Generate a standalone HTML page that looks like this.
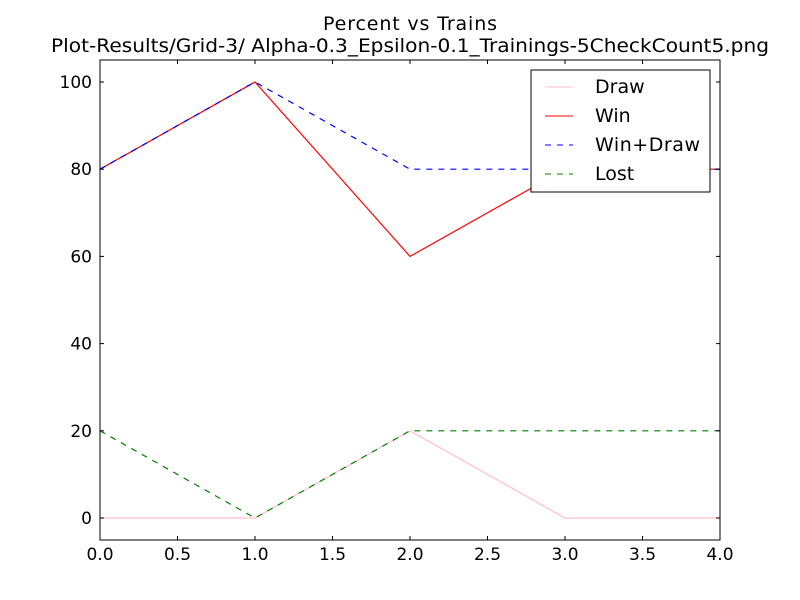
<!DOCTYPE html>
<html><head><meta charset="utf-8"><style>body{margin:0;background:#fff}svg{display:block;font-family:"DejaVu Sans","Liberation Sans",sans-serif}</style></head>
<body>
<svg id="chart" width="800" height="600">
<rect width="800" height="600" fill="#fff"/>
<text x="410" y="30" font-size="19" text-anchor="middle" textLength="174">Percent vs Trains</text>
<text x="410" y="52" font-size="19" text-anchor="middle" textLength="718" lengthAdjust="spacingAndGlyphs">Plot-Results/Grid-3/ Alpha-0.3_Epsilon-0.1_Trainings-5CheckCount5.png</text>
<g id="plot"></g>
<rect x="100" y="60" width="620" height="480" fill="none" stroke="#000" stroke-width="1"/>
<g id="axes"></g>
<g>
<rect x="531" y="70" width="179" height="122" fill="#fff" stroke="#000"/>
<line x1="545" y1="87" x2="573" y2="87" stroke="pink"/>
<text x="595" y="93" font-size="19">Draw</text>
<line x1="545" y1="116" x2="573" y2="116" stroke="red"/>
<text x="595" y="122" font-size="19">Win</text>
<line x1="545" y1="145" x2="573" y2="145" stroke="blue" stroke-dasharray="6,6"/>
<text x="595" y="151" font-size="19" textLength="105">Win+Draw</text>
<line x1="545" y1="174" x2="573" y2="174" stroke="green" stroke-dasharray="6,6"/>
<text x="595" y="180" font-size="19">Lost</text>
</g>
</svg>
<script>
const xs = [0, 1, 2, 3, 4];
const draw = [0, 0, 20, 0, 0];
const win = [80, 100, 60, 80, 80];
const winDraw = [80, 100, 80, 80, 80];
const lost = [20, 0, 20, 20, 20];
const xTicks = [0, 0.5, 1, 1.5, 2, 2.5, 3, 3.5, 4];
const yTicks = [0, 20, 40, 60, 80, 100];
const X = v => 100 + v * 155;
const Y = v => 518 - v * 4.36;
const NS = "http://www.w3.org/2000/svg";
const plot = document.getElementById('plot'), axes = document.getElementById('axes');
function series(vals, color, dash, name) {
  const p = document.createElementNS(NS, 'polyline');
  p.setAttribute('points', vals.map((v, i) => X(xs[i]) + ',' + Y(v)).join(' '));
  p.setAttribute('fill', 'none'); p.setAttribute('stroke', color); p.setAttribute('stroke-width', '1.2');
  if (dash) p.setAttribute('stroke-dasharray', dash);
  
  
  plot.appendChild(p);
}
series(draw, 'pink', null, 'draw-line');
series(win, 'red', null, 'win-line');
series(winDraw, 'blue', '6,6', 'win-draw-line');
series(lost, 'green', '6,6', 'lost-line');
xTicks.forEach(t => {
  const x = X(t);
  [[540, 536], [60, 64]].forEach(([a, b]) => {
    const l = document.createElementNS(NS, 'line');
    l.setAttribute('x1', x); l.setAttribute('x2', x); l.setAttribute('y1', a); l.setAttribute('y2', b);
    l.setAttribute('stroke', '#000');
    
    
    axes.appendChild(l);
  });
  const tx = document.createElementNS(NS, 'text');
  tx.setAttribute('x', x); tx.setAttribute('y', 560); tx.setAttribute('font-size', '17'); tx.setAttribute('text-anchor', 'middle');
  tx.textContent = t.toFixed(1);
  
  
  axes.appendChild(tx);
});
yTicks.forEach(t => {
  const y = Y(t);
  [[100, 104], [720, 716]].forEach(([a, b]) => {
    const l = document.createElementNS(NS, 'line');
    l.setAttribute('x1', a); l.setAttribute('x2', b); l.setAttribute('y1', y); l.setAttribute('y2', y);
    l.setAttribute('stroke', '#000');
    
    
    axes.appendChild(l);
  });
  const tx = document.createElementNS(NS, 'text');
  tx.setAttribute('x', 92); tx.setAttribute('y', y + 6); tx.setAttribute('font-size', '17'); tx.setAttribute('text-anchor', 'end');
  tx.textContent = t;
  
  
  axes.appendChild(tx);
});
</script>
</body></html>
